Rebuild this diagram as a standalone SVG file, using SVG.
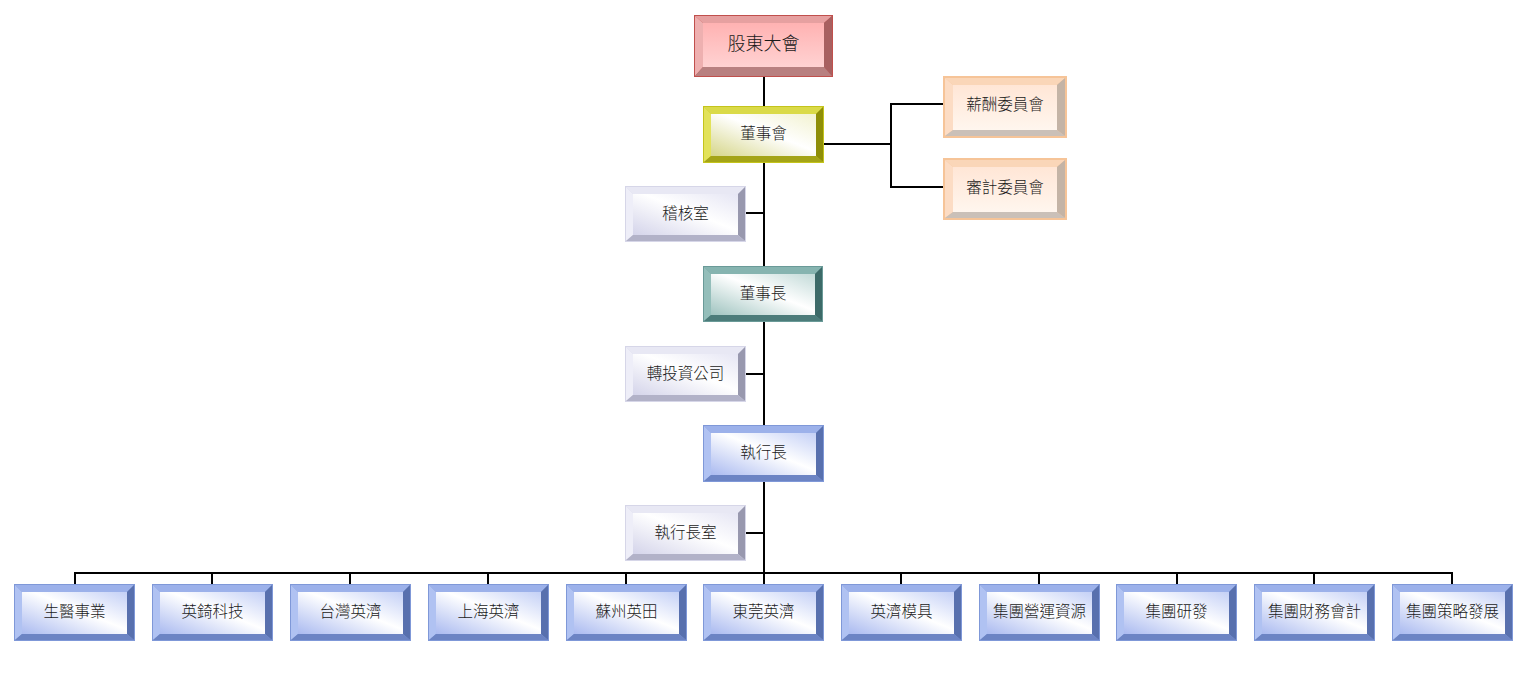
<svg xmlns="http://www.w3.org/2000/svg" xmlns:xlink="http://www.w3.org/1999/xlink" width="1530" height="693" viewBox="0 0 1530 693">
<style>
text{font-family:"Noto Sans CJK TC","Noto Sans CJK SC",sans-serif;font-size:15.5px;font-weight:300;fill:#1a1a1a;text-anchor:middle;dominant-baseline:central}
.big{font-size:18px}
.ln{stroke:#000;stroke-width:2;fill:none}
</style>
<defs>
<linearGradient id="gRed" x1="0" y1="0" x2="0" y2="1"><stop offset="0" stop-color="#ffb2b2"/><stop offset="1" stop-color="#ffd2d2"/></linearGradient>
<linearGradient id="gOl" x1="0" y1="1" x2="1" y2="0"><stop offset="0" stop-color="#d6d68a"/><stop offset="0.55" stop-color="#ffffff"/><stop offset="1" stop-color="#f2f2d0"/></linearGradient>
<linearGradient id="gTe" x1="0" y1="1" x2="1" y2="0"><stop offset="0" stop-color="#a0c4c0"/><stop offset="0.55" stop-color="#ffffff"/><stop offset="1" stop-color="#c2dad8"/></linearGradient>
<linearGradient id="gBl" x1="0" y1="1" x2="1" y2="0"><stop offset="0" stop-color="#aabaf0"/><stop offset="0.55" stop-color="#ffffff"/><stop offset="1" stop-color="#c4d0f6"/></linearGradient>
<linearGradient id="gLa" x1="0" y1="1" x2="1" y2="0"><stop offset="0" stop-color="#d4d4ea"/><stop offset="0.55" stop-color="#ffffff"/><stop offset="1" stop-color="#e6e6f4"/></linearGradient>
<linearGradient id="gPe" x1="0" y1="0" x2="0" y2="1"><stop offset="0" stop-color="#ffe6d6"/><stop offset="1" stop-color="#fff6ee"/></linearGradient>

<g id="bvRed">
<rect x="0" y="0" width="139" height="62" fill="#c0504d"/>
<polygon points="1,1 138,1 130,8 9,8" fill="#e6a0a0"/>
<polygon points="1,1 9,8 9,52 1,61" fill="#eeb0b0"/>
<polygon points="138,1 138,61 130,52 130,8" fill="#a86060"/>
<polygon points="1,61 9,52 130,52 138,61" fill="#b88080"/>
<rect x="9" y="8" width="121" height="44" fill="url(#gRed)"/>
</g>
<g id="bvOl">
<rect x="0" y="0" width="121" height="57" fill="#c4c41c"/>
<polygon points="1,1 120,1 113,8 8,8" fill="#dada48"/>
<polygon points="1,1 8,8 8,50 1,56" fill="#e2e25a"/>
<polygon points="120,1 120,56 113,50 113,8" fill="#8e8e08"/>
<polygon points="1,56 8,50 113,50 120,56" fill="#a4a418"/>
<rect x="8" y="8" width="105" height="42" fill="url(#gOl)"/>
</g>
<g id="bvTe">
<rect x="0" y="0" width="120" height="56" fill="#6a9a98"/>
<polygon points="1,1 119,1 112,8 8,8" fill="#86b4b0"/>
<polygon points="1,1 8,8 8,49 1,55" fill="#94beba"/>
<polygon points="119,1 119,55 112,49 112,8" fill="#3c6a68"/>
<polygon points="1,55 8,49 112,49 119,55" fill="#4c7c7a"/>
<rect x="8" y="8" width="104" height="41" fill="url(#gTe)"/>
</g>
<g id="bvBl">
<rect x="0" y="0" width="121" height="57" fill="#7f98d8"/>
<polygon points="1,1 120,1 113,8 8,8" fill="#9cb1ea"/>
<polygon points="1,1 8,8 8,50 1,56" fill="#b0c2f2"/>
<polygon points="120,1 120,56 113,50 113,8" fill="#5870ae"/>
<polygon points="1,56 8,50 113,50 120,56" fill="#6c84c4"/>
<rect x="8" y="8" width="105" height="42" fill="url(#gBl)"/>
</g>
<g id="bvLa">
<rect x="0" y="0" width="121" height="56" fill="#d6d6e8"/>
<polygon points="1,1 120,1 113,8 8,8" fill="#e8e8f4"/>
<polygon points="1,1 8,8 8,49 1,55" fill="#eeeef8"/>
<polygon points="120,1 120,55 113,49 113,8" fill="#9898ae"/>
<polygon points="1,55 8,49 113,49 120,55" fill="#b2b2c8"/>
<rect x="8" y="8" width="105" height="41" fill="url(#gLa)"/>
</g>
<g id="bvPe">
<rect x="0" y="0" width="124" height="62" fill="#f6c498"/>
<polygon points="2,2 122,2 114,9 10,9" fill="#fad6b8"/>
<polygon points="2,2 10,9 10,54 2,60" fill="#fcdcc4"/>
<polygon points="122,2 122,60 114,54 114,9" fill="#c4b4a6"/>
<polygon points="2,60 10,54 114,54 122,60" fill="#cac0b8"/>
<rect x="10" y="9" width="104" height="45" fill="url(#gPe)"/>
</g>
</defs>

<rect width="1530" height="693" fill="#ffffff"/>

<g id="connectors">
<line class="ln" x1="764" y1="77" x2="764" y2="106"/>
<line class="ln" x1="764" y1="163" x2="764" y2="266"/>
<line class="ln" x1="764" y1="322" x2="764" y2="425"/>
<line class="ln" x1="764" y1="482" x2="764" y2="584"/>
<line class="ln" x1="746" y1="213" x2="764" y2="213"/>
<line class="ln" x1="746" y1="374" x2="764" y2="374"/>
<line class="ln" x1="746" y1="533" x2="764" y2="533"/>
<polyline class="ln" points="824,144 891,144"/>
<polyline class="ln" points="943,104 891,104 891,187 943,187"/>
<line class="ln" x1="74" y1="573" x2="1453" y2="573"/>
<path class="ln" d="M75 573V584M212 573V584M350 573V584M488 573V584M626 573V584M901 573V584M1039 573V584M1177 573V584M1314 573V584M1452 573V584"/>
</g>

<g id="n-shareholders" transform="translate(694,15)"><use xlink:href="#bvRed"/><text class="big" x="69.5" y="27">股東大會</text></g>
<g id="n-board" transform="translate(703,106)"><use xlink:href="#bvOl"/><text x="60.5" y="26">董事會</text></g>
<g id="n-comp" transform="translate(943,76)"><use xlink:href="#bvPe"/><text x="62" y="27">薪酬委員會</text></g>
<g id="n-audit" transform="translate(943,158)"><use xlink:href="#bvPe"/><text x="62" y="28">審計委員會</text></g>
<g id="n-internal" transform="translate(625,186)"><use xlink:href="#bvLa"/><text x="60.5" y="26">稽核室</text></g>
<g id="n-chairman" transform="translate(703,266)"><use xlink:href="#bvTe"/><text x="60" y="26">董事長</text></g>
<g id="n-invest" transform="translate(625,346)"><use xlink:href="#bvLa"/><text x="60.5" y="26">轉投資公司</text></g>
<g id="n-ceo" transform="translate(703,425)"><use xlink:href="#bvBl"/><text x="60.5" y="26">執行長</text></g>
<g id="n-ceooffice" transform="translate(625,505)"><use xlink:href="#bvLa"/><text x="60.5" y="26">執行長室</text></g>

<g id="n-b1" transform="translate(14,584)"><use xlink:href="#bvBl"/><text x="60.5" y="26">生醫事業</text></g>
<g id="n-b2" transform="translate(152,584)"><use xlink:href="#bvBl"/><text x="60.5" y="26">英錡科技</text></g>
<g id="n-b3" transform="translate(290,584)"><use xlink:href="#bvBl"/><text x="60.5" y="26">台灣英濟</text></g>
<g id="n-b4" transform="translate(428,584)"><use xlink:href="#bvBl"/><text x="60.5" y="26">上海英濟</text></g>
<g id="n-b5" transform="translate(566,584)"><use xlink:href="#bvBl"/><text x="60.5" y="26">蘇州英田</text></g>
<g id="n-b6" transform="translate(703,584)"><use xlink:href="#bvBl"/><text x="60.5" y="26">東莞英濟</text></g>
<g id="n-b7" transform="translate(841,584)"><use xlink:href="#bvBl"/><text x="60.5" y="26">英濟模具</text></g>
<g id="n-b8" transform="translate(979,584)"><use xlink:href="#bvBl"/><text x="60.5" y="26">集團營運資源</text></g>
<g id="n-b9" transform="translate(1116,584)"><use xlink:href="#bvBl"/><text x="60.5" y="26">集團研發</text></g>
<g id="n-b10" transform="translate(1254,584)"><use xlink:href="#bvBl"/><text x="60.5" y="26">集團財務會計</text></g>
<g id="n-b11" transform="translate(1392,584)"><use xlink:href="#bvBl"/><text x="60.5" y="26">集團策略發展</text></g>
</svg>
